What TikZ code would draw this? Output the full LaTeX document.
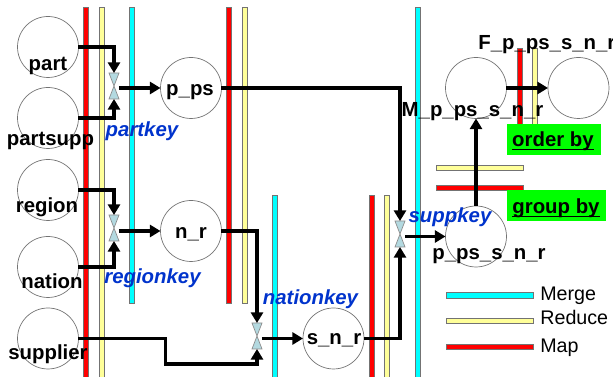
\documentclass[tikz,border=0pt]{standalone}
\usepackage{fontspec}
\setmainfont{Liberation Sans}
\usetikzlibrary{arrows.meta}
\definecolor{barred}{RGB}{255, 0, 0}
\definecolor{baryellow}{RGB}{255, 255, 153}
\definecolor{barcyan}{RGB}{0, 255, 255}
\definecolor{keyblue}{RGB}{0, 51, 204}
\definecolor{tiefill}{RGB}{179, 217, 224}
\definecolor{opgreen}{RGB}{0, 255, 0}
\newcommand{\opline}[1]{\setbox0=\hbox{#1}\rlap{\vrule width\wd0 height-1.1pt depth1.9pt}\box0}

\begin{document}
\begin{tikzpicture}[
  x=0.02cm, y=-0.02cm,
  table/.style={draw=black!55, circle, minimum size=1.22cm, inner sep=0pt, outer sep=0pt, line width=0.4pt},
  tablelbl/.style={anchor=base, inner sep=0pt, font=\fontsize{11.6}{13}\selectfont\bfseries},
  joinkey/.style={anchor=base, inner sep=0pt, text=keyblue, font=\fontsize{11.6}{13}\selectfont\bfseries\itshape},
  legendtext/.style={anchor=base west, inner sep=0pt, font=\fontsize{11.2}{13}\selectfont},
  tie/.style={minimum width=0.2cm, minimum height=0.52cm, inner sep=0pt, outer sep=0pt},
  tieshape/.style={draw=black!45, fill=tiefill, line width=0.4pt},
  bar/.style={draw=black!55, line width=0.4pt},
  flow/.style={line width=2pt, -{Triangle[length=6pt, width=6.8pt]}},
  opbox/.style={fill=opgreen, inner sep=0pt, outer sep=0pt}
]
  \useasboundingbox (0, 0) rectangle (613, 377);

  \foreach \x/\ya/\yb/\c in {86/7/380/barred, 102/7/380/baryellow, 132/7/303/barcyan, 229/7/303/barred, 245/7/303/baryellow, 275/195/380/barcyan, 372/195/380/barred, 387/195/380/baryellow, 418/7/380/barcyan, 520/48/124/barred, 535/48/124/baryellow} {
    \draw[bar, fill=\c] (\x-2.5, \ya) rectangle (\x+2.5, \yb);
  }
  \draw[bar, fill=baryellow] (436, 165) rectangle (523, 170);
  \draw[bar, fill=barred] (436, 185) rectangle (523, 190);
  \draw[bar, fill=barcyan] (446, 292) rectangle (533, 298);
  \draw[bar, fill=baryellow] (446, 318) rectangle (533, 323);
  \draw[bar, fill=barred] (446, 344) rectangle (533, 349);

  \node[table] (part) at (48, 47) {};
  \node[table] (partsupp) at (48, 118) {};
  \node[table] (region) at (48, 190) {};
  \node[table] (nation) at (48, 267) {};
  \node[table] (supplier) at (48, 338.5) {};
  \node[table] (pps) at (191, 88) {};
  \node[table] (nr) at (191, 231) {};
  \node[table] (snr) at (333.5, 338.5) {};
  \node[table] (ppssnr) at (476, 236.5) {};
  \node[table] (mppssnr) at (476, 88) {};
  \node[table] (fppssnr) at (578.5, 88) {};

  \node[tie] (tiepart) at (114, 86) {};
  \node[tie] (tieregion) at (114, 228) {};
  \node[tie] (tienation) at (257, 336) {};
  \node[tie] (tiesupp) at (400, 234) {};
  \foreach \t in {tiepart, tieregion, tienation, tiesupp} {
    \draw[tieshape] (\t.north west) -- (\t.north east) -- (\t.south west) -- (\t.south east) -- cycle;
  }

  \coordinate (bend) at (165.5, 364);

  \draw[flow] (part.east) -| (tiepart.north);
  \draw[flow] (partsupp.east) -| (tiepart.south);
  \draw[flow] (region.east) -| (tieregion.north);
  \draw[flow] (nation.east) -| (tieregion.south);
  \draw[flow] (tiepart.east |- pps.west) -- (pps.west);
  \draw[flow] (tieregion.east |- nr.west) -- (nr.west);
  \draw[flow] (nr.east) -| (tienation.north);
  \draw[flow] (supplier.east) -| (bend) -| (tienation.south);
  \draw[flow] (tienation.east |- snr.west) -- (snr.west);
  \draw[flow] (pps.east) -| (tiesupp.north);
  \draw[flow] (snr.east) -| (tiesupp.south);
  \draw[flow] (tiesupp.east |- ppssnr.west) -- (ppssnr.west);
  \draw[flow] (ppssnr.north) -- (mppssnr.south);
  \draw[flow] (mppssnr.east) -- (fppssnr.west);

  \node[opbox, minimum width=1.88cm, minimum height=0.62cm] (orderby) at (554, 139.5) {};
  \node[opbox, minimum width=1.98cm, minimum height=0.62cm] (groupby) at (556.5, 205.5) {};
  \node[tablelbl] (orderlbl) at (553, 147) {\opline{order by}};
  \node[tablelbl] (grouplbl) at (556, 214) {\opline{group by}};

  \node[tablelbl] (partlbl) at (48, 71) {part};
  \node[tablelbl] (partsupplbl) at (50.5, 146) {partsupp};
  \node[tablelbl] (regionlbl) at (47, 213) {region};
  \node[tablelbl] (nationlbl) at (52, 288.5) {nation};
  \node[tablelbl] (supplierlbl) at (48, 360) {supplier};
  \node[tablelbl] (ppslbl) at (190, 95.5) {p\_ps};
  \node[tablelbl] (nrlbl) at (191, 238.5) {n\_r};
  \node[tablelbl] (snrlbl) at (334, 345) {s\_n\_r};
  \node[tablelbl] (ppssnrlbl) at (489, 260) {p\_ps\_s\_n\_r};
  \node[tablelbl] (mppssnrlbl) at (472.5, 116.5) {M\_p\_ps\_s\_n\_r};
  \node[tablelbl, anchor=base west] (fppssnrlbl) at (478, 50) {F\_p\_ps\_s\_n\_r};

  \node[joinkey] (partkey) at (142, 137) {partkey};
  \node[joinkey] (regionkey) at (152.5, 283.5) {regionkey};
  \node[joinkey] (nationkey) at (310.5, 305) {nationkey};
  \node[joinkey] (suppkey) at (450, 223) {suppkey};

  \node[legendtext] (mergelbl) at (540, 301) {Merge};
  \node[legendtext] (reducelbl) at (540, 325) {Reduce};
  \node[legendtext] (maplbl) at (540, 353) {Map};
\end{tikzpicture}
\end{document}
